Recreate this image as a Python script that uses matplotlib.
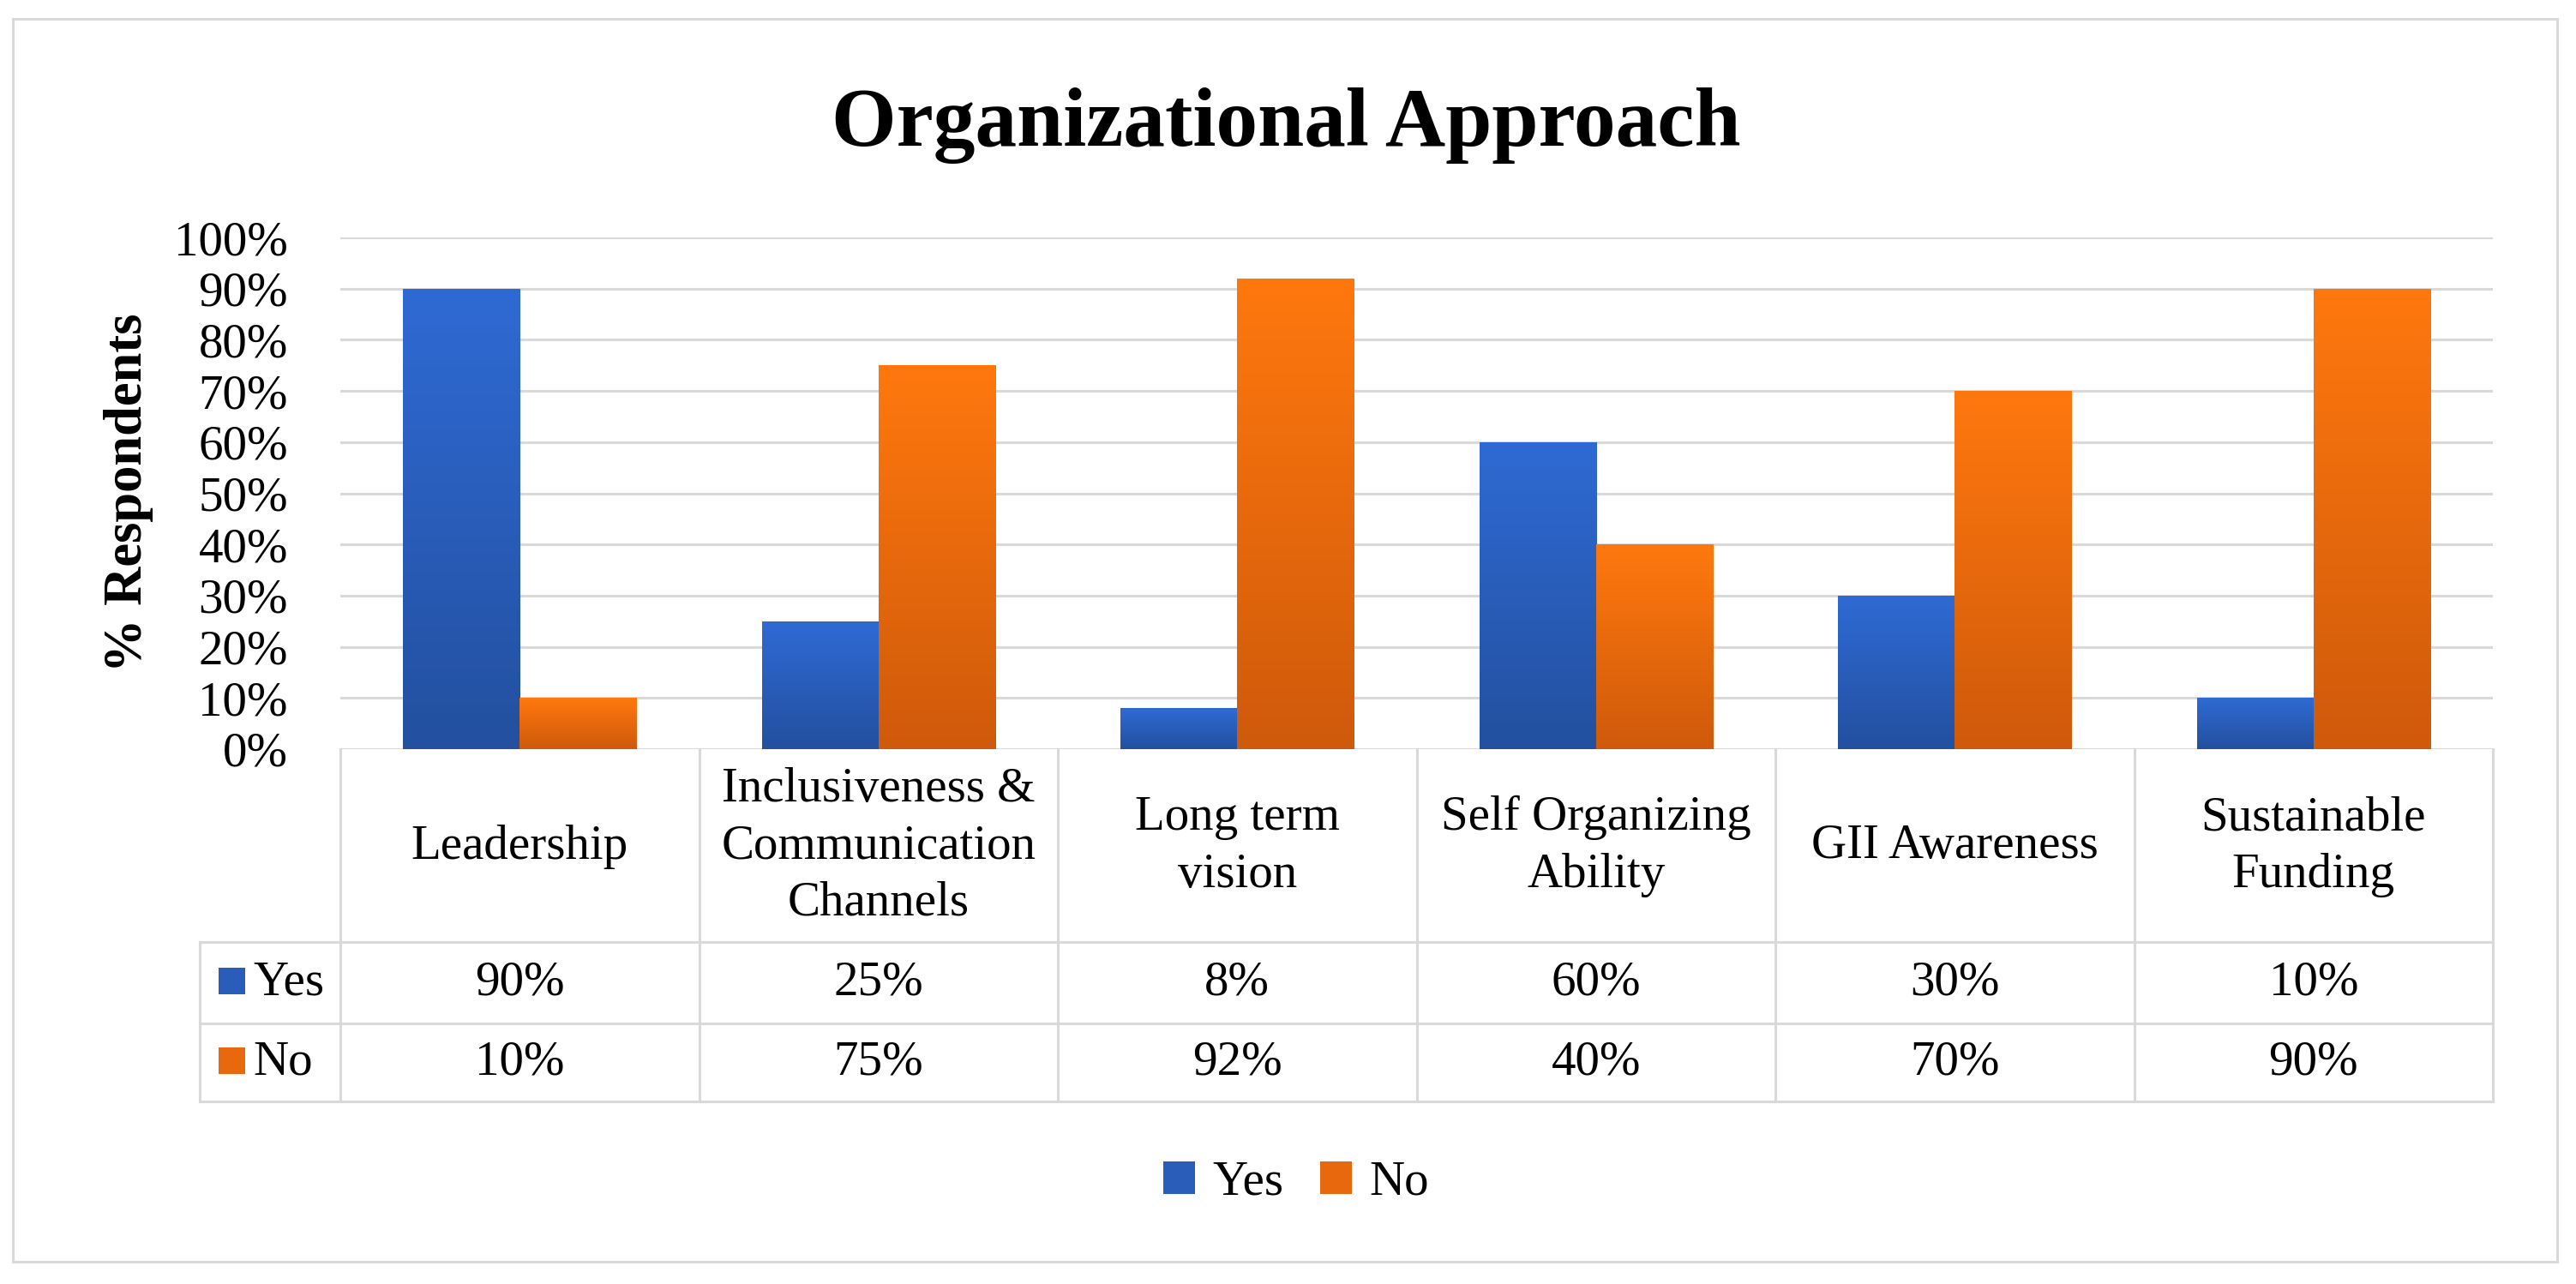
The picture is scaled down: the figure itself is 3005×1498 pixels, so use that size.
import numpy as np
import matplotlib
matplotlib.use("Agg")
import matplotlib.pyplot as plt
from matplotlib.colors import LinearSegmentedColormap
from matplotlib.patches import Rectangle
from matplotlib.lines import Line2D
from matplotlib.ticker import MultipleLocator, FuncFormatter
import matplotlib.transforms as mtransforms

# ---------------- data ----------------
title = "Organizational Approach"
ylabel = "% Respondents"
categories = ["Leadership", "Inclusiveness &\nCommunication\nChannels", "Long term\nvision",
              "Self Organizing\nAbility", "GII Awareness", "Sustainable\nFunding"]
series_names = ["Yes", "No"]
yes_values = [90, 25, 8, 60, 30, 10]
no_values = [10, 75, 92, 40, 70, 90]

# ---------------- style ----------------
plt.rcParams['font.family'] = ['Liberation Serif', 'DejaVu Serif']
W, H = 3005, 1498
DPI = 200
fig = plt.figure(figsize=(W / DPI, H / DPI), dpi=DPI)
fig.patch.set_facecolor('white')

def fx(px):
    return px / W

def fy(py):
    return 1 - py / H

GRID = '#D9D9D9'
LW = 1.1
FS = 20.5

blue_top, blue_bot, blue_mid = '#2F6AD4', '#23509F', '#2A5DBA'
orng_top, orng_bot, orng_mid = '#FF780E', '#CF5A0B', '#E8690D'

ax_left, ax_right, ax_top, ax_bot = 397, 2908, 277, 874
ax = fig.add_axes([fx(ax_left), fy(ax_bot), fx(ax_right) - fx(ax_left), fy(ax_top) - fy(ax_bot)])
ax.set_facecolor('none')

n = len(categories)
x = np.arange(n)
bw = 0.325
yes_frac = np.array(yes_values) / 100.0
no_frac = np.array(no_values) / 100.0

bars_yes = ax.bar(x - bw / 2, yes_frac, width=bw, color=blue_mid, zorder=2, label=series_names[0])
bars_no = ax.bar(x + bw / 2, no_frac, width=bw, color=orng_mid, zorder=2, label=series_names[1])

grad = np.linspace(0, 1, 256).reshape(-1, 1)
cm_blue = LinearSegmentedColormap.from_list('b', [blue_bot, blue_top])
cm_orng = LinearSegmentedColormap.from_list('o', [orng_bot, orng_top])
for bars, cm in ((bars_yes, cm_blue), (bars_no, cm_orng)):
    for r in bars:
        x0, w, h = r.get_x(), r.get_width(), r.get_height()
        im = ax.imshow(grad, extent=[x0, x0 + w, 0, h], origin='lower', aspect='auto',
                       cmap=cm, zorder=3, interpolation='bilinear')
        im.set_clip_path(r)

ax.set_xlim(-0.5, n - 0.5)
ax.set_ylim(0, 1.0)
ax.yaxis.set_major_locator(MultipleLocator(0.1))
ax.yaxis.set_major_formatter(FuncFormatter(lambda v, p: f"{round(v * 100)}%"))
ax.set_axisbelow(True)
ax.grid(axis='y', color=GRID, linewidth=LW, zorder=0)
ax.grid(axis='x', visible=False)
for s in ax.spines.values():
    s.set_visible(False)
ax.tick_params(axis='y', length=0, pad=22, labelsize=FS, labelcolor='#000000')
ax.tick_params(axis='x', length=0, labelbottom=False)

# ---------------- title and y label ----------------
fig.text(fx(1500), fy(170), title, ha='center', va='baseline', fontsize=35, fontweight='bold')
fig.text(fx(150), fy(575), ylabel, ha='center', va='center', rotation=90, fontsize=22.5,
         fontweight='bold')

# ---------------- data table ----------------
trans = mtransforms.blended_transform_factory(ax.transData, fig.transFigure)
row_cat_bot, row_yes_bot, row_no_bot = 1099, 1194, 1285
leg_col_left = 233
col_w_px = (ax_right - ax_left) / n
left_data = -0.5 - (ax_left - leg_col_left) / col_w_px

# horizontal lines
for py in (row_cat_bot, row_yes_bot, row_no_bot):
    fig.add_artist(Line2D([left_data, n - 0.5], [fy(py), fy(py)], transform=trans,
                          color=GRID, lw=LW, zorder=1))
# vertical lines
for i in range(n + 1):
    xv = -0.5 + i
    fig.add_artist(Line2D([xv, xv], [fy(ax_bot), fy(row_no_bot)], transform=trans,
                          color=GRID, lw=LW, zorder=1))
fig.add_artist(Line2D([left_data, left_data], [fy(row_cat_bot), fy(row_no_bot)], transform=trans,
                      color=GRID, lw=LW, zorder=1))

# category labels
cat_y = (ax_bot + row_cat_bot) / 2 + 1
for i, c in enumerate(categories):
    fig.text(x[i], fy(cat_y), c, transform=trans, ha='center', va='center',
             multialignment='center', fontsize=FS, linespacing=1.36)

# value rows
rows = [(yes_values, (row_cat_bot + row_yes_bot) / 2, blue_mid, series_names[0]),
        (no_values, (row_yes_bot + row_no_bot) / 2, orng_mid, series_names[1])]
for vals, cy, col, name in rows:
    for i, v in enumerate(vals):
        fig.text(x[i], fy(cy), f"{v}%", transform=trans, ha='center', va='center', fontsize=FS)
    sq = 31
    fig.add_artist(Rectangle((fx(255), fy(cy + sq / 2 - 2)), fx(sq), sq / H,
                             transform=fig.transFigure, facecolor=col, edgecolor='none'))
    fig.text(fx(295), fy(cy), name, ha='left', va='center', fontsize=FS)

# ---------------- bottom legend ----------------
fig.legend(handles=[bars_yes, bars_no], labels=series_names, loc='center',
           bbox_to_anchor=(fx(1512), fy(1380)), ncol=2, frameon=False, fontsize=FS,
           handlelength=0.65, handleheight=0.65, handletextpad=0.35, columnspacing=0.75,
           borderpad=0)

# ---------------- outer border ----------------
fig.add_artist(Rectangle((fx(15), fy(1472)), fx(2983) - fx(15), fy(22) - fy(1472),
                         transform=fig.transFigure, facecolor='none', edgecolor=GRID, lw=LW))

fig.savefig("out.png", dpi=DPI, facecolor='white')
